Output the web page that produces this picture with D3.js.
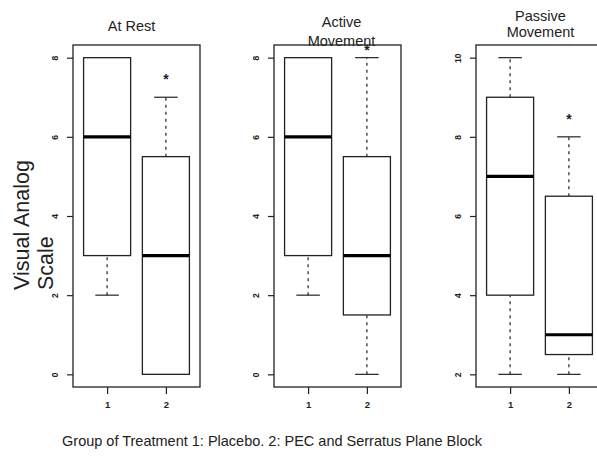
<!DOCTYPE html>
<html>
<head>
<meta charset="utf-8">
<script src="https://cdn.jsdelivr.net/npm/d3@7"></script>
<style>
  body { margin: 0; background: #fff; }
  text { font-family: "Liberation Sans", Arial, sans-serif; fill: #222; }
</style>
</head>
<body>
<div id="chart"></div>
<script>
// ---- data ----
const panelTitles = [["At Rest"], ["Active", "Movement"], ["Passive", "Movement"]];
const groups = ["1", "2"];
const yDomains = [[0, 8], [0, 8], [2, 10]];
const yTicks = [[0, 2, 4, 6, 8], [0, 2, 4, 6, 8], [2, 4, 6, 8, 10]];
// [lower whisker, Q1, median, Q3, upper whisker] per group
const restStats = [[2, 3, 6, 8, 8], [0, 0, 3, 5.5, 7]];
const activeStats = [[2, 3, 6, 8, 8], [0, 1.5, 3, 5.5, 8]];
const passiveStats = [[2, 4, 7, 9, 10], [2, 2.5, 3, 6.5, 8]];
const starValues = [7.5, 8.25, 8.5]; // asterisk above group 2
const yLabel = ["Visual Analog", "Scale"];
const xLabel = "Group of Treatment 1: Placebo. 2: PEC and Serratus Plane Block";

const allStats = [restStats, activeStats, passiveStats];

const W = 597, H = 459;
const svg = d3.select("#chart").append("svg")
  .attr("width", W).attr("height", H);

const ink = "#222";
const panelLefts = [73, 274, 476];
const panelW = 127;
const plotTop = 45, plotBottom = 387;
// title placement per panel (first baseline, line gap, x nudge)
const titleBase = [31, 27, 21];
const titleGap = [0, 19, 16];
const titleShift = [-5, 4, 1];

allStats.forEach((stats, i) => {
  const x0 = panelLefts[i];
  // R style extended axis ranges (4%)
  const [d0, d1] = yDomains[i];
  const ext = (d1 - d0) * 0.04;
  const y = d3.scaleLinear().domain([d0 - ext, d1 + ext]).range([plotBottom, plotTop]);
  const x = d3.scaleLinear().domain([0.42, 2.58]).range([x0, x0 + panelW]);
  const bw = x(1.4) - x(1);      // half box width
  const sw = x(1.2) - x(1);      // half staple width

  const g = svg.append("g");

  // frame
  g.append("rect")
    .attr("x", x0).attr("y", plotTop)
    .attr("width", panelW).attr("height", plotBottom - plotTop)
    .attr("fill", "none").attr("stroke", ink).attr("stroke-width", 1.3);

  // y axis, labels rotated like R's las=0
  const ya = g.append("g")
    .attr("transform", `translate(${x0},0)`)
    .call(d3.axisLeft(y).tickValues(yTicks[i]).tickSize(6));
  ya.select(".domain").remove();
  ya.selectAll("line").attr("stroke", ink).attr("stroke-width", 1.2);
  ya.selectAll("text")
    .attr("font-size", 8.5).attr("font-weight", "bold")
    .attr("text-anchor", "middle")
    .attr("x", 0).attr("dy", 0)
    .attr("dominant-baseline", "middle")
    .attr("transform", "translate(-17,0) rotate(-90)");

  // x axis
  const xa = g.append("g")
    .attr("transform", `translate(0,${plotBottom})`)
    .call(d3.axisBottom(x).tickValues([1, 2]).tickFormat((d, k) => groups[k]).tickSize(7).tickPadding(7));
  xa.select(".domain").remove();
  xa.selectAll("line").attr("stroke", ink).attr("stroke-width", 1.2);
  xa.selectAll("text").attr("font-size", 9.5).attr("font-weight", "bold");

  // boxes
  stats.forEach((s, k) => {
    const cx = x(k + 1);
    const [lo, q1, med, q3, hi] = s;
    // whiskers
    [[lo, q1], [q3, hi]].forEach(([a, b]) => {
      if (a === b) return;
      g.append("line")
        .attr("x1", cx).attr("x2", cx).attr("y1", y(a)).attr("y2", y(b))
        .attr("stroke", ink).attr("stroke-width", 1.2).attr("stroke-dasharray", "3,4");
    });
    [lo, hi].forEach(v => {
      g.append("line")
        .attr("x1", cx - sw).attr("x2", cx + sw).attr("y1", y(v)).attr("y2", y(v))
        .attr("stroke", ink).attr("stroke-width", 1.2);
    });
    g.append("rect")
      .attr("x", cx - bw).attr("width", 2 * bw)
      .attr("y", y(q3)).attr("height", y(q1) - y(q3))
      .attr("fill", "#fff").attr("stroke", ink).attr("stroke-width", 1.3);
    g.append("line")
      .attr("x1", cx - bw).attr("x2", cx + bw).attr("y1", y(med)).attr("y2", y(med))
      .attr("stroke", "#000").attr("stroke-width", 3.2);
  });

  // asterisk
  g.append("text")
    .attr("x", x(2)).attr("y", y(starValues[i]) + 7)
    .attr("text-anchor", "middle").attr("font-size", 14).attr("font-weight", "bold")
    .text("*");

  // title
  const cxT = x0 + panelW / 2 + titleShift[i];
  panelTitles[i].forEach((t, j) => {
    svg.append("text")
      .attr("x", cxT).attr("y", titleBase[i] + j * titleGap[i])
      .attr("text-anchor", "middle").attr("font-size", 14.5)
      .text(t);
  });
});

// y label
yLabel.forEach((t, j) => {
  svg.append("text")
    .attr("transform", `translate(${29 + j * 24},290) rotate(-90)`)
    .attr("text-anchor", "start").attr("font-size", 21.5)
    .text(t);
});

// x label
svg.append("text")
  .attr("x", 272).attr("y", 446)
  .attr("text-anchor", "middle").attr("font-size", 14.5)
  .text(xLabel);
</script>
</body>
</html>
